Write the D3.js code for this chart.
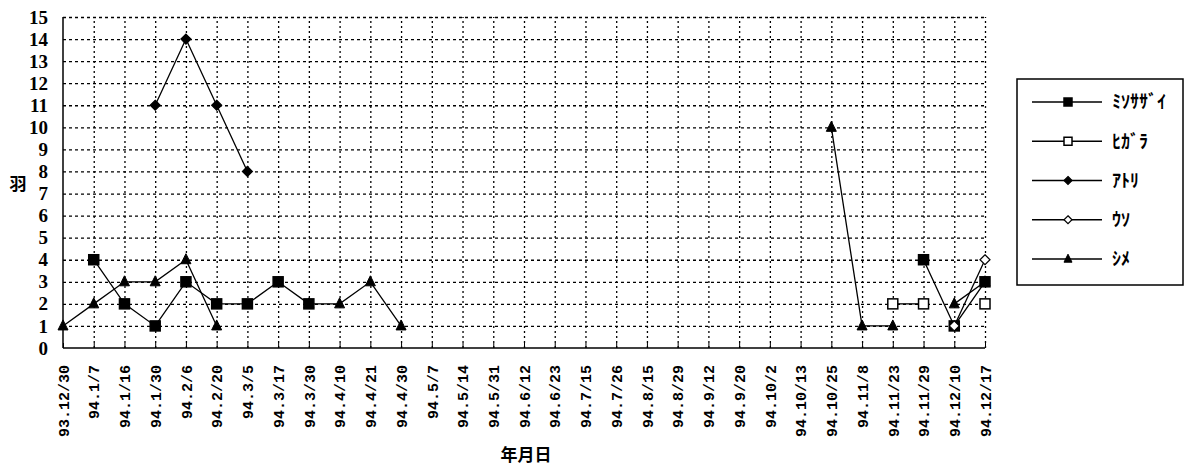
<!DOCTYPE html>
<html><head><meta charset="utf-8">
<script src="https://cdn.jsdelivr.net/npm/d3@7"></script>
<style>body{margin:0;background:#fff;}svg{display:block;}</style>
</head><body>
<svg id="chart" width="1191" height="472"></svg>
<script>
const categories = ["93.12/30","94.1/7","94.1/16","94.1/30","94.2/6","94.2/20","94.3/5","94.3/17","94.3/30","94.4/10","94.4/21","94.4/30","94.5/7","94.5/14","94.5/31","94.6/12","94.6/23","94.7/15","94.7/26","94.8/15","94.8/29","94.9/12","94.9/20","94.10/2","94.10/13","94.10/25","94.11/8","94.11/23","94.11/29","94.12/10","94.12/17"];
const N = null;
const misosazai = [N,4,2,1,3,2,2,3,2,N,N,N,N,N,N,N,N,N,N,N,N,N,N,N,N,N,N,N,4,1,3];
const higara    = [N,N,N,N,N,N,N,N,N,N,N,N,N,N,N,N,N,N,N,N,N,N,N,N,N,N,N,2,2,N,2];
const atori     = [N,N,N,11,14,11,8,N,N,N,N,N,N,N,N,N,N,N,N,N,N,N,N,N,N,N,N,N,N,N,N];
const uso       = [N,N,N,N,N,N,N,N,N,N,N,N,N,N,N,N,N,N,N,N,N,N,N,N,N,N,N,N,N,1,4];
const shime     = [1,2,3,3,4,1,N,N,2,2,3,1,N,N,N,N,N,N,N,N,N,N,N,N,N,10,1,1,N,2,3];
const yTicks = [0,1,2,3,4,5,6,7,8,9,10,11,12,13,14,15];
const seriesNames = ["ﾐｿｻｻﾞｲ","ﾋｶﾞﾗ","ｱﾄﾘ","ｳｿ","ｼﾒ"];

const series = [
  {name: seriesNames[0], values: misosazai, marker: "square", fill: "#000"},
  {name: seriesNames[1], values: higara, marker: "square", fill: "#fff"},
  {name: seriesNames[2], values: atori, marker: "diamond", fill: "#000"},
  {name: seriesNames[3], values: uso, marker: "diamond", fill: "#fff"},
  {name: seriesNames[4], values: shime, marker: "triangle", fill: "#000"}
];
// drawing order (later on top)
const drawOrder = [4, 0, 1, 2, 3];

const svg = d3.select("#chart");
const L = 63, R = 985, T = 17, B = 348;
const x = d3.scalePoint().domain(categories).range([L, R]);
const y = d3.scaleLinear().domain([0, 15]).range([B, T]);

const serif = "'Liberation Serif', 'DejaVu Serif', serif";

// horizontal gridlines
svg.append("g").attr("transform", `translate(${L},0)`)
  .call(d3.axisLeft(y).tickValues(yTicks.filter(v => v > 0)).tickSize(-(R - L)).tickFormat(""))
  .call(g => g.select(".domain").remove())
  .call(g => g.selectAll("line").attr("stroke", "#000").attr("stroke-width", 1.3).attr("stroke-dasharray", "3,3"));

// vertical gridlines
svg.append("g").attr("transform", `translate(0,${B})`)
  .call(d3.axisBottom(x).tickValues(categories.slice(1)).tickSize(-(B - T)).tickFormat(""))
  .call(g => g.select(".domain").remove())
  .call(g => g.selectAll("line").attr("stroke", "#000").attr("stroke-width", 1.3).attr("stroke-dasharray", "2,3"));

// y axis
const yAxis = svg.append("g").attr("transform", `translate(${L},0)`)
  .call(d3.axisLeft(y).tickValues(yTicks).tickSize(0).tickPadding(15).tickFormat(d3.format("d")));
yAxis.select(".domain").attr("stroke", "#000").attr("stroke-width", 1.5).attr("d", `M0,${T}V${B}`);
yAxis.selectAll("text").attr("font-family", serif).attr("font-size", 19).attr("font-weight", "bold").attr("fill", "#000");

// x axis
const xAxis = svg.append("g").attr("transform", `translate(0,${B})`)
  .call(d3.axisBottom(x).tickSize(-5).tickFormat(d => d));
xAxis.select(".domain").attr("stroke", "#000").attr("stroke-width", 1.5).attr("d", `M${L},0H${R}`);
xAxis.selectAll("line").attr("stroke", "#000");
xAxis.selectAll("text")
  .attr("font-family", "'Liberation Mono', 'DejaVu Sans Mono', monospace")
  .attr("font-size", 15).attr("font-weight", "bold").attr("fill", "#000")
  .attr("transform", "rotate(-90)")
  .attr("text-anchor", "end").attr("x", -17).attr("y", 0).attr("dy", "0.35em");

// axis titles
svg.append("text").attr("x", 18).attr("y", 190).attr("text-anchor", "middle")
  .attr("font-family", "'Noto Sans CJK JP', sans-serif").attr("font-size", 17).attr("font-weight", "bold").text("羽");
svg.append("text").attr("x", 526).attr("y", 461).attr("text-anchor", "middle")
  .attr("font-family", "'Noto Sans CJK JP', sans-serif").attr("font-size", 17).attr("font-weight", "bold").text("年月日");

function drawMarker(g, type, fill, cx, cy, k = 1) {
  if (type === "square") {
    const h = 5 * k;
    g.append("rect").attr("x", cx - h).attr("y", cy - h).attr("width", 2 * h).attr("height", 2 * h)
      .attr("fill", fill).attr("stroke", "#000").attr("stroke-width", 1.5);
  } else if (type === "diamond") {
    const s = 5 * k;
    g.append("path").attr("d", `M${cx},${cy - s}L${cx + s},${cy}L${cx},${cy + s}L${cx - s},${cy}Z`)
      .attr("fill", fill).attr("stroke", "#000").attr("stroke-width", 1.2);
  } else {
    g.append("path").attr("d", `M${cx},${cy - 6 * k}L${cx + 5 * k},${cy + 4 * k}L${cx - 5 * k},${cy + 4 * k}Z`)
      .attr("fill", fill).attr("stroke", "#000").attr("stroke-width", 1);
  }
}

const line = d3.line()
  .defined(d => d.v !== null)
  .x(d => x(d.c)).y(d => y(d.v));

drawOrder.forEach(i => {
  const s = series[i];
  const pts = categories.map((c, k) => ({c, v: s.values[k]}));
  const g = svg.append("g");
  g.append("path").datum(pts).attr("d", line)
    .attr("fill", "none").attr("stroke", "#000").attr("stroke-width", 1.3);
  pts.filter(p => p.v !== null).forEach(p => drawMarker(g, s.marker, s.fill, x(p.c), y(p.v)));
});

// legend
const lg = svg.append("g");
lg.append("rect").attr("x", 1017).attr("y", 79).attr("width", 166).attr("height", 206)
  .attr("fill", "#fff").attr("stroke", "#000").attr("stroke-width", 1.5);
const legendY = d3.scalePoint().domain(seriesNames).range([102, 259]);
series.forEach(s => {
  const ly = legendY(s.name);
  lg.append("line").attr("x1", 1032).attr("x2", 1102).attr("y1", ly).attr("y2", ly)
    .attr("stroke", "#000").attr("stroke-width", 1.3);
  drawMarker(lg, s.marker, s.fill, 1068, ly, 0.8);
  lg.append("text").attr("x", 1112).attr("y", ly).attr("dy", "0.35em")
    .attr("font-family", "'Noto Sans CJK JP', sans-serif").attr("font-size", 18).attr("font-weight", "bold")
    .text(s.name);
});
</script>
</body></html>
